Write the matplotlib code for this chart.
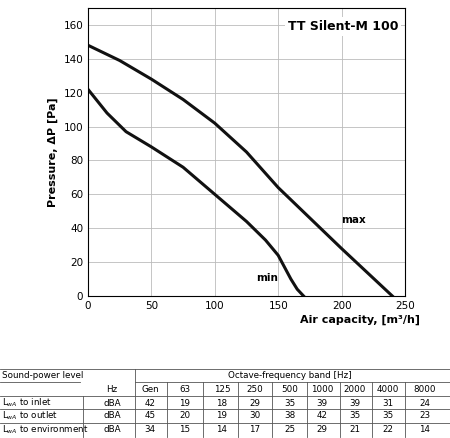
import matplotlib
matplotlib.use("Agg")
import matplotlib.pyplot as plt
from matplotlib.lines import Line2D

max_x = [0, 25, 50, 75, 100, 125, 150, 175, 200, 220, 240]
max_y = [148, 139, 128, 116, 102, 85, 64, 46, 28, 14, 0]
min_x = [0, 15, 30, 50, 75, 100, 125, 140, 150, 160, 165, 170]
min_y = [122, 108, 97, 88, 76, 60, 44, 33, 24, 10, 4, 0]

bands = ["Gen", "63", "125", "250", "500", "1000", "2000", "4000", "8000"]
rows = ["to inlet", "to outlet", "to environment"]
inlet = [42, 19, 18, 29, 35, 39, 39, 31, 24]
outlet = [45, 20, 19, 30, 38, 42, 35, 35, 23]
environment = [34, 15, 14, 17, 25, 29, 21, 22, 14]

W, H = 450, 438
fig = plt.figure(figsize=(4.5, 4.38), dpi=100)
ax = fig.add_axes([88/W, 1-296/H, 317/W, 288/H])
ax.plot(max_x, max_y, color="#111", lw=2.2)
ax.plot(min_x, min_y, color="#111", lw=2.2)
ax.set_xlim(0, 250); ax.set_ylim(0, 170)
ax.set_xticks(range(0, 251, 50)); ax.set_yticks(range(0, 161, 20))
ax.grid(True, color="#bbb", lw=0.6)
ax.tick_params(labelsize=7.5, length=0)
ax.text(200, 43, "max", fontsize=7.5, fontweight="bold")
ax.text(150, 9, "min", fontsize=7.5, fontweight="bold", ha="right")
ax.text(245, 157, "TT Silent-M 100", fontsize=9, fontweight="bold", ha="right",
        bbox=dict(fc="white", ec="none", pad=2))
ax.set_ylabel("Pressure, ΔP [Pa]", fontsize=8, fontweight="bold")
fig.text(300/W, 1-323/H, "Air capacity, [m³/h]", fontsize=8, fontweight="bold")

def fy(y): return 1 - y/H
def fx(x): return x/W
fs = 6.3
col_x = [150, 185, 222, 255, 290, 322, 355, 388, 425]
ys = [376, 389, 403, 416, 430]
fig.text(fx(2), fy(ys[0]), "Sound-power level", fontsize=fs, va="center")
fig.text(fx(290), fy(ys[0]), "Octave-frequency band [Hz]", fontsize=fs, va="center", ha="center")
fig.text(fx(112), fy(ys[1]), "Hz", fontsize=fs, va="center", ha="center")
for x, b in zip(col_x, bands):
    fig.text(fx(x), fy(ys[1]), b, fontsize=fs, va="center", ha="center")
for i, (r, vals) in enumerate(zip(rows, [inlet, outlet, environment])):
    y = ys[2+i]
    fig.text(fx(2), fy(y), "L$_{wA}$ " + r, fontsize=fs, va="center")
    fig.text(fx(112), fy(y), "dBA", fontsize=fs, va="center", ha="center")
    for x, v in zip(col_x, vals):
        fig.text(fx(x), fy(y), str(v), fontsize=fs, va="center", ha="center")
lc = "#555"
def hl(x0, x1, y): fig.add_artist(Line2D([fx(x0), fx(x1)], [fy(y), fy(y)], color=lc, lw=0.6))
def vl(x, y0, y1): fig.add_artist(Line2D([fx(x), fx(x)], [fy(y0), fy(y1)], color=lc, lw=0.6))
hl(0, 450, 369); hl(0, 80, 382); hl(135, 450, 382)
for y in [396, 409, 423]: hl(0, 450, y)
vl(135, 369, 437); vl(83, 396, 437)
for x in [167, 203, 238, 272, 307, 340, 372, 405]: vl(x, 382, 437)
fig.savefig("out.png", dpi=100)
